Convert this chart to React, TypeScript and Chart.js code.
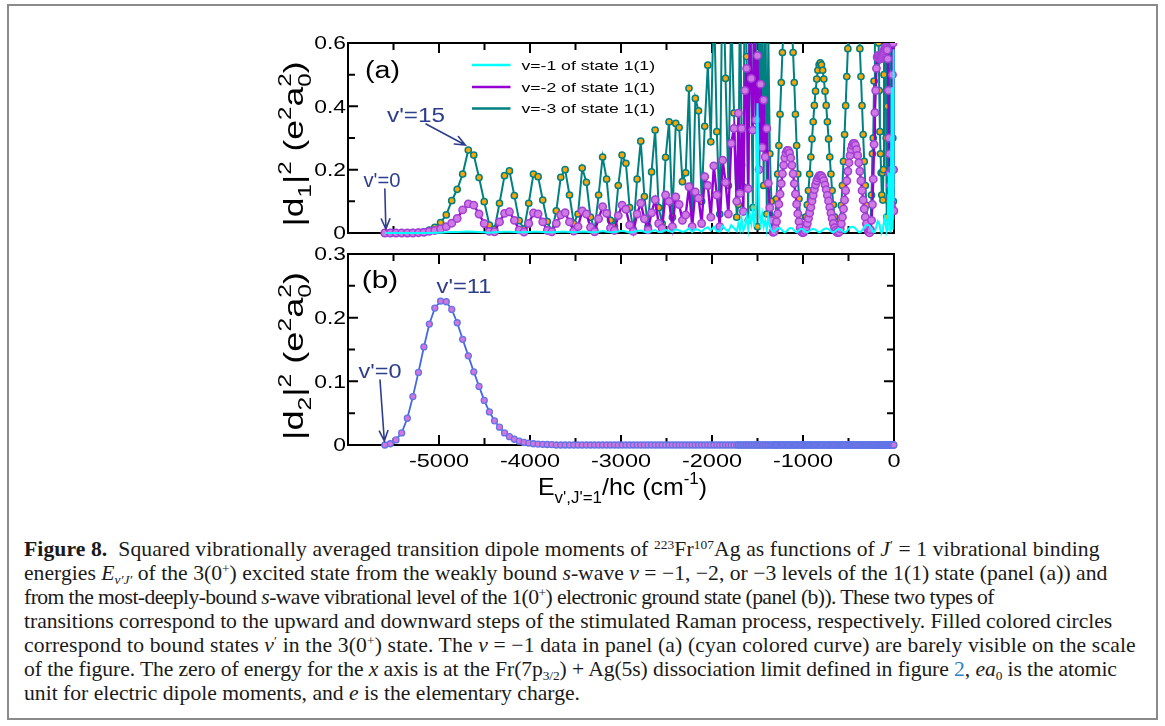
import React, { useEffect, useLayoutEffect, useRef } from 'react';
import { Chart, registerables } from 'chart.js';
Chart.register(...registerables);

// ---------------- data ----------------
// vibrational level energies E_{v',J'=1}/hc (cm^-1) of the 3(0+) state
const levelE = [
  -5595, -5535, -5473, -5410, -5348, -5287, -5226, -5166, -5106, -5046,
  -4983, -4920, -4860, -4800, -4740, -4678, -4618, -4560, -4503, -4446,
  -4390, -4335, -4280, -4226, -4172, -4119, -4066, -4014, -3962, -3911,
  -3860, -3810, -3760,
  -3711, -3662, -3614, -3566, -3519, -3472, -3426, -3380, -3335, -3290,
  -3246, -3202, -3158, -3115, -3072, -3030, -2988, -2946, -2905, -2864,
  -2823, -2783, -2743, -2703, -2664, -2625, -2586, -2548, -2510, -2472,
  -2435, -2398, -2361, -2325, -2289, -2253, -2218, -2183, -2148, -2114,
  -2080, -2046, -2013, -1980, -1947, -1915, -1883, -1851, -1820, -1789,
  -1758, -1728,
  -1710, -1692, -1674, -1656, -1638, -1620, -1602, -1585, -1568, -1551,
  -1534, -1517, -1500, -1483, -1466, -1449, -1432, -1415, -1398, -1381,
  -1364, -1347,
  -1330,
  -1317, -1304, -1291, -1278, -1265, -1252, -1239, -1226, -1213, -1200,
  -1187, -1174, -1161, -1148, -1135, -1122, -1109, -1096, -1083, -1070,
  -1057, -1044, -1031, -1018, -1005,
  -992, -979, -966, -953, -940, -927, -914, -901, -888, -875,
  -862, -849, -836, -823, -810, -797, -784, -771, -758, -745,
  -732, -719, -706, -693, -680, -667, -654, -641, -628, -615,
  -603, -591, -579, -567, -555, -543, -531, -519, -507, -495,
  -483, -471, -459, -447, -435, -423, -411, -399, -387, -375,
  -363, -351, -339, -327, -315, -303, -291, -279, -267,
  -257, -247, -237, -228, -219, -210, -201, -193, -185, -177,
  -169, -162, -155, -148, -141, -134, -128, -122, -116, -110,
  -104, -98, -92, -86, -80, -74, -68, -62, -56, -50,
  -45, -40, -35, -30, -25, -21, -17, -13, -10, -7,
  -4, -2,
];

// |d1|^2 from v=-1 of state 1(1) (cyan)
const d1sqV1 = [
  0, 0, 0, 0, 0, 0, 0, 0, 0, 0.001,
  0.001, 0.002, 0.003, 0.003, 0.004, 0.005, 0.004, 0.003, 0.002, 0.001,
  0.002, 0.003, 0.004, 0.004, 0.003, 0.002, 0.002, 0.003, 0.004, 0.004,
  0.003, 0.002, 0.002,
  0.003, 0.004, 0.004, 0.003, 0.002, 0.003, 0.005, 0.004, 0.002, 0.002,
  0.004, 0.006, 0.004, 0.002, 0.003, 0.005, 0.007, 0.005, 0.002, 0.003,
  0.006, 0.008, 0.004, 0.002, 0.006, 0.009, 0.003, 0.004, 0.01, 0.006,
  0.003, 0.012, 0.008, 0.004, 0.006, 0.015, 0.003, 0.012, 0.01, 0.004,
  0.014, 0.018,
  0.008, 0.02, 0.006, 0.004, 0.022, 0.012, 0.005, 0.025, 0.015, 0.006,
  0.03, 0.01, 0.045, 0.008, 0.02, 0.05, 0.012, 0.06, 0.03, 0.07,
  0.02, 0.1, 0.41, 0.08, 0.03, 0.06, 0.02, 0.04, 0.01, 0.05,
  0.02, 0.01,
  0.005,
  0.004, 0.008, 0.012, 0.015, 0.016, 0.015, 0.012, 0.008, 0.004, 0.002,
  0.004, 0.008, 0.012, 0.015, 0.016, 0.015, 0.012, 0.008, 0.004, 0.002,
  0.005, 0.009, 0.012, 0.013, 0.012,
  0.009, 0.006, 0.003, 0.002, 0.004, 0.007, 0.01, 0.012, 0.013, 0.012,
  0.01, 0.007, 0.004, 0.002, 0.003, 0.006, 0.009, 0.012, 0.014, 0.015,
  0.014, 0.012, 0.009, 0.006, 0.003, 0.002, 0.004, 0.007, 0.01, 0.012,
  0.013, 0.012, 0.01, 0.007, 0.004, 0.002, 0.003, 0.006, 0.01, 0.014,
  0.017, 0.019, 0.02, 0.019, 0.017, 0.014, 0.01, 0.006, 0.003, 0.002,
  0.004, 0.008, 0.013, 0.018, 0.022, 0.025, 0.026, 0.025, 0.022,
  0.018, 0.013, 0.008, 0.004, 0.002, 0.005, 0.012, 0.022, 0.032, 0.037,
  0.035, 0.028, 0.018, 0.009, 0.003, 0.002, 0.006, 0.015, 0.028, 0.04,
  0.05, 0.045, 0.03, 0.015, 0.005, 0.01, 0.05, 0.12, 0.19, 0.1,
  0.03, 0.005, 0.08, 0.3, 0.46, 0.25, 0.06, 0.01, 0.15, 0.58,
  0.4, 0.1,
];

// |d1|^2 from v=-2 of state 1(1) (purple)
const d1sqV2 = [
  0, 0, 0, 0, 0, 0, 0.001, 0.002, 0.005, 0.008,
  0.013, 0.02, 0.031, 0.046, 0.073, 0.092, 0.088, 0.06, 0.03, 0.005,
  0.004, 0.035, 0.062, 0.067, 0.04, 0.01, 0.003, 0.03, 0.063, 0.06,
  0.035, 0.008, 0.004,
  0.03, 0.057, 0.064, 0.035, 0.006, 0.02, 0.07, 0.06, 0.018, 0.004,
  0.045, 0.083, 0.062, 0.015, 0.008, 0.055, 0.088, 0.075, 0.025, 0.005,
  0.06, 0.094, 0.045, 0.01, 0.064, 0.105, 0.03, 0.015, 0.12, 0.1,
  0.02, 0.114, 0.09, 0.04, 0.057, 0.146, 0.02, 0.13, 0.11, 0.03,
  0.178, 0.15,
  0.05, 0.212, 0.12, 0.02, 0.23, 0.16, 0.06, 0.283, 0.33, 0.1,
  0.378, 0.125, 0.33, 0.068, 0.45, 0.52, 0.14, 0.62, 0.488, 0.325,
  0.75, 0.357, 0.56, 0.2, 0.47, 0.27, 0.42, 0.24, 0.33, 0.157,
  0.08, 0.04,
  0.002,
  0.004, 0.016, 0.036, 0.061, 0.091, 0.123, 0.156, 0.187, 0.214, 0.237,
  0.253, 0.261, 0.261, 0.253, 0.237, 0.214, 0.187, 0.156, 0.123, 0.091,
  0.061, 0.036, 0.016, 0.004, 0.001,
  0.002, 0.008, 0.017, 0.03, 0.046, 0.063, 0.081, 0.101, 0.119, 0.137,
  0.152, 0.165, 0.174, 0.18, 0.182, 0.18, 0.174, 0.165, 0.152, 0.137,
  0.119, 0.101, 0.081, 0.063, 0.046, 0.03, 0.017, 0.008, 0.002, 0.001,
  0.003, 0.013, 0.029, 0.05, 0.076, 0.104, 0.134, 0.165, 0.195, 0.222,
  0.245, 0.264, 0.277, 0.283, 0.283, 0.277, 0.264, 0.245, 0.222, 0.195,
  0.165, 0.134, 0.104, 0.076, 0.05, 0.029, 0.013, 0.003, 0.001,
  0.01, 0.04, 0.09, 0.17, 0.28, 0.38, 0.45, 0.52, 0.555, 0.56,
  0.56, 0.555, 0.55, 0.55, 0.552, 0.556, 0.56, 0.565, 0.57, 0.575,
  0.58, 0.585, 0.588, 0.585, 0.58, 0.578, 0.55, 0.45, 0.3, 0.25,
  0.188, 0.15, 0.11, 0.09, 0.07, 0.2, 0.5, 0.8, 0.6, 0.2,
  0.07, 0.07,
];

// |d1|^2 from v=-3 of state 1(1) (teal line, orange circles)
const d1sqV3 = [
  0, 0, 0, 0, 0, 0.001, 0.002, 0.004, 0.009, 0.018,
  0.033, 0.057, 0.102, 0.138, 0.186, 0.262, 0.246, 0.175, 0.099, 0.025,
  0.012, 0.094, 0.181, 0.196, 0.118, 0.039, 0.012, 0.094, 0.186, 0.178,
  0.104, 0.036, 0.005,
  0.07, 0.176, 0.2, 0.12, 0.03, 0.06, 0.205, 0.16, 0.05, 0.01,
  0.12, 0.24, 0.17, 0.04, 0.02, 0.15, 0.246, 0.22, 0.08, 0.01,
  0.17, 0.29, 0.115, 0.02, 0.193, 0.325, 0.08, 0.03, 0.239, 0.351,
  0.05, 0.346, 0.333, 0.162, 0.19, 0.457, 0.02, 0.425, 0.386, 0.1,
  0.337, 0.53,
  0.288, 0.75, 0.32, 0.06, 0.9, 0.488, 0.15, 0.7, 0.379, 0.05,
  0.09, 0.85, 0.215, 0.146, 0.95, 0.557, 0.04, 1.1, 0.45, 0.08,
  1.3, 0.483, 0.02, 1.0, 0.3, 0.7, 0.15, 0.9, 0.06, 0.62,
  0.25, 0.1,
  0.005,
  0.013, 0.049, 0.108, 0.186, 0.276, 0.375, 0.475, 0.57, 0.655, 0.724,
  0.772, 0.797, 0.797, 0.772, 0.724, 0.655, 0.57, 0.475, 0.375, 0.276,
  0.186, 0.108, 0.049, 0.013, 0.002,
  0.006, 0.023, 0.051, 0.089, 0.134, 0.186, 0.24, 0.297, 0.351, 0.403,
  0.448, 0.486, 0.514, 0.531, 0.537, 0.531, 0.514, 0.486, 0.448, 0.403,
  0.351, 0.297, 0.24, 0.186, 0.134, 0.089, 0.051, 0.023, 0.006, 0.001,
  0.01, 0.039, 0.087, 0.15, 0.226, 0.311, 0.402, 0.494, 0.582, 0.664,
  0.734, 0.789, 0.828, 0.848, 0.848, 0.828, 0.789, 0.734, 0.664, 0.582,
  0.494, 0.402, 0.311, 0.226, 0.15, 0.087, 0.039, 0.01, 0.001,
  0.04, 0.12, 0.25, 0.3, 0.48, 0.7, 0.95, 1.1, 1.0, 0.8,
  0.6, 0.45, 0.32, 0.25, 0.19, 0.12, 0.19, 0.104, 0.2, 0.5,
  0.9, 1.2, 0.8, 0.3, 0.05, 0.4, 0.9, 0.7, 0.1, 0.3,
  0.9, 0.5, 0.05, 0.8, 0.6, 0.08, 0.9, 0.3, 0.7, 0.1,
  0.8, 0.2,
];

// |d2|^2 from the most-deeply-bound level of 1(0+) (panel b)
const d2sq = [
  0, 0.002, 0.008, 0.019, 0.042, 0.076, 0.114, 0.154, 0.19, 0.215,
  0.226, 0.225, 0.213, 0.192, 0.166, 0.14, 0.115, 0.092, 0.07, 0.052,
  0.038, 0.028, 0.019, 0.013, 0.009, 0.006, 0.004, 0.003, 0.002, 0.0015,
  0.001, 0.0008, 0.0006,
  0, 0, 0, 0, 0, 0, 0, 0, 0, 0, 0, 0, 0, 0, 0, 0, 0, 0, 0, 0,
  0, 0, 0, 0, 0, 0, 0, 0, 0, 0, 0, 0, 0, 0, 0, 0, 0, 0, 0, 0,
  0, 0, 0, 0, 0, 0, 0, 0, 0, 0, 0, 0, 0, 0, 0, 0, 0, 0, 0, 0,
  0, 0, 0, 0, 0, 0, 0, 0, 0, 0, 0, 0, 0, 0, 0, 0, 0, 0, 0, 0,
  0, 0, 0, 0, 0, 0, 0, 0, 0, 0, 0, 0, 0, 0, 0, 0, 0, 0, 0, 0,
  0, 0, 0, 0, 0, 0, 0, 0, 0, 0, 0, 0, 0, 0, 0, 0, 0, 0, 0, 0,
  0, 0, 0, 0, 0, 0, 0, 0, 0, 0, 0, 0, 0, 0, 0, 0, 0, 0, 0, 0,
  0, 0, 0, 0, 0, 0, 0, 0, 0, 0, 0, 0, 0, 0, 0, 0, 0, 0, 0, 0,
  0, 0, 0, 0, 0, 0, 0, 0, 0, 0, 0, 0, 0, 0, 0, 0, 0, 0, 0, 0,
  0, 0, 0, 0, 0, 0, 0, 0, 0, 0, 0, 0, 0, 0, 0, 0, 0, 0, 0, 0,
  0,
];

const legendLabels = ['v=-1 of state 1(1)', 'v=-2 of state 1(1)', 'v=-3 of state 1(1)'];
const xTickValues = [-5000, -4000, -3000, -2000, -1000, 0];
const xTickLabels = ['-5000', '-4000', '-3000', '-2000', '-1000', '0'];
const yTickValuesA = [0, 0.2, 0.4, 0.6];
const yTickLabelsA = ['0', '0.2', '0.4', '0.6'];
const yTickValuesB = [0, 0.1, 0.2, 0.3];
const yTickLabelsB = ['0', '0.1', '0.2', '0.3'];

// ---------------- drawing helpers ----------------
const SANS = '"Liberation Sans", Arial, Helvetica, sans-serif';
const ANNOT = '#2c3e8c';
const SMALL = 0.68;

type Part = { t: string; k?: 'sub' | 'sup' | 'subsup'; t2?: string };

function partsWidth(ctx: CanvasRenderingContext2D, parts: Part[], size: number) {
  let w = 0;
  for (const p of parts) {
    if (!p.k) {
      ctx.font = `${size}px ${SANS}`;
      w += ctx.measureText(p.t).width;
    } else {
      ctx.font = `${size * SMALL}px ${SANS}`;
      const a = ctx.measureText(p.t).width;
      const b = p.t2 ? ctx.measureText(p.t2).width : 0;
      w += Math.max(a, b);
    }
  }
  return w;
}

function drawParts(ctx: CanvasRenderingContext2D, parts: Part[], size: number, subOff = 0.3, supOff = 0.42) {
  let x = 0;
  for (const p of parts) {
    if (!p.k) {
      ctx.font = `${size}px ${SANS}`;
      ctx.fillText(p.t, x, 0);
      x += ctx.measureText(p.t).width;
    } else {
      ctx.font = `${size * SMALL}px ${SANS}`;
      const a = ctx.measureText(p.t).width;
      const b = p.t2 ? ctx.measureText(p.t2).width : 0;
      if (p.k === 'sub') ctx.fillText(p.t, x, size * subOff);
      else if (p.k === 'sup') ctx.fillText(p.t, x, -size * supOff);
      else {
        ctx.fillText(p.t, x, size * subOff);
        ctx.fillText(p.t2 || '', x, -size * supOff);
      }
      x += Math.max(a, b);
    }
  }
}

type TOpts = {
  x: number; y: number; size: number; align?: 'left' | 'center' | 'right';
  sx?: number; w?: number; color?: string; rot?: boolean; sp?: number; subOff?: number; supOff?: number;
};

function textAt(ctx: CanvasRenderingContext2D, parts: Part[] | string, o: TOpts) {
  const P: Part[] = typeof parts === 'string' ? [{ t: parts }] : parts;
  const nat = partsWidth(ctx, P, o.size);
  const sx = o.w ? o.w / nat : o.sx ?? 1;
  const tw = nat * sx;
  ctx.save();
  ctx.fillStyle = o.color ?? '#000';
  ctx.textAlign = 'left';
  ctx.textBaseline = 'alphabetic';
  if (o.rot) {
    ctx.translate(o.x, o.y);
    ctx.rotate(-Math.PI / 2);
    ctx.scale(sx, o.sp ?? 1);
    ctx.translate(-nat / 2, 0);
  } else {
    let left = o.x;
    if (o.align === 'center') left -= tw / 2;
    else if (o.align === 'right') left -= tw;
    ctx.translate(left, o.y);
    ctx.scale(sx, o.sp ?? 1);
  }
  drawParts(ctx, P, o.size, o.subOff, o.supOff);
  ctx.restore();
}

function arrow(ctx: CanvasRenderingContext2D, x0: number, y0: number, x1: number, y1: number, color: string) {
  ctx.save();
  ctx.strokeStyle = color;
  ctx.lineWidth = 1.6;
  ctx.lineCap = 'round';
  ctx.beginPath();
  ctx.moveTo(x0, y0);
  ctx.lineTo(x1, y1);
  const a = Math.atan2(y1 - y0, x1 - x0);
  const L = 11, s = 0.4;
  ctx.moveTo(x1 - L * Math.cos(a - s), y1 - L * Math.sin(a - s));
  ctx.lineTo(x1, y1);
  ctx.lineTo(x1 - L * Math.cos(a + s), y1 - L * Math.sin(a + s));
  ctx.stroke();
  ctx.restore();
}

function makeFrame(yStep: number, yCount: number) {
  return {
    id: 'frame',
    beforeDatasetsDraw(chart: any) {
      const { ctx, chartArea: a, scales } = chart;
      ctx.save();
      ctx.strokeStyle = '#000';
      ctx.lineWidth = 2;
      ctx.strokeRect(a.left, a.top, a.right - a.left, a.bottom - a.top);
      ctx.beginPath();
      for (let i = 0; i <= 12; i++) {
        const v = -6000 + i * 500;
        const px = scales.x.getPixelForValue(v);
        const L = i % 2 === 0 ? 10 : 7;
        ctx.moveTo(px, a.bottom); ctx.lineTo(px, a.bottom - L);
        ctx.moveTo(px, a.top); ctx.lineTo(px, a.top + L);
      }
      for (let i = 0; i <= yCount; i++) {
        const py = scales.y.getPixelForValue(i * yStep);
        const L = i % 2 === 0 ? 10 : 7;
        ctx.moveTo(a.left, py); ctx.lineTo(a.left + L, py);
        ctx.moveTo(a.right, py); ctx.lineTo(a.right - L, py);
      }
      ctx.stroke();
      ctx.restore();
    },
  };
}

const titleA: Part[] = [
  { t: '|d' }, { t: '1', k: 'sub' }, { t: '|' }, { t: '2', k: 'sup' }, { t: ' (e' }, { t: '2', k: 'sup' },
  { t: 'a' }, { t: '0', k: 'subsup', t2: '2' }, { t: ')' },
];
const titleB: Part[] = [
  { t: '|d' }, { t: '2', k: 'sub' }, { t: '|' }, { t: '2', k: 'sup' }, { t: ' (e' }, { t: '2', k: 'sup' },
  { t: 'a' }, { t: '0', k: 'subsup', t2: '2' }, { t: ')' },
];
const titleX: Part[] = [
  { t: 'E' }, { t: "v',J'=1", k: 'sub' }, { t: '/hc (cm' }, { t: '-1', k: 'sup' }, { t: ')' },
];

const textA = {
  id: 'textA',
  afterDraw(chart: any) {
    const { ctx, scales } = chart;
    yTickValuesA.forEach((v, i) =>
      textAt(ctx, yTickLabelsA[i], { x: 346, y: scales.y.getPixelForValue(v) + 6.4, size: 18, align: 'right', sx: 1.27 })
    );
    textAt(ctx, titleA, { x: 303, y: 144, size: 24, rot: true, w: 165, sp: 1.15 });
    const cols = ['#00ffff', '#9400d3', '#008080'];
    const rows = [65, 87, 108.5];
    legendLabels.forEach((lab, i) => {
      ctx.save();
      ctx.strokeStyle = cols[i];
      ctx.lineWidth = 2.5;
      ctx.beginPath();
      ctx.moveTo(472, rows[i]);
      ctx.lineTo(510.5, rows[i]);
      ctx.stroke();
      ctx.restore();
      textAt(ctx, lab, { x: 521.5, y: rows[i] + 4.8, size: 13.5, w: 133.5 });
    });
    textAt(ctx, '(a)', { x: 382.5, y: 78.4, size: 23, align: 'center', w: 35 });
    const tx = scales.x.getPixelForValue(levelE[15]);
    const ty = scales.y.getPixelForValue(d1sqV3[15]);
    textAt(ctx, "v'=15", { x: 416, y: 121.5, size: 20, align: 'center', w: 58, color: ANNOT });
    arrow(ctx, 426, 124, tx - 3, ty - 5, ANNOT);
    const zx = scales.x.getPixelForValue(levelE[0]);
    textAt(ctx, "v'=0", { x: 382, y: 186.5, size: 20, align: 'center', w: 37, color: ANNOT });
    arrow(ctx, zx, 189, zx + 1, scales.y.getPixelForValue(0) - 4, ANNOT);
  },
};

const OFFB = 240;
const textB = {
  id: 'textB',
  afterDraw(chart: any) {
    const { ctx, scales } = chart;
    yTickValuesB.forEach((v, i) =>
      textAt(ctx, yTickLabelsB[i], { x: 346, y: scales.y.getPixelForValue(v) + 6.4, size: 18, align: 'right', sx: 1.27 })
    );
    xTickValues.forEach((v, i) =>
      textAt(ctx, xTickLabels[i], { x: scales.x.getPixelForValue(v), y: 466.5 - OFFB, size: 18.5, align: 'center', sx: 1.27 })
    );
    textAt(ctx, titleB, { x: 303, y: 356 - OFFB, size: 24, rot: true, w: 168, sp: 1.15 });
    textAt(ctx, titleX, { x: 538, y: 495 - OFFB, size: 24, w: 169, subOff: 0.33, supOff: 0.45 });
    textAt(ctx, '(b)', { x: 380, y: 288.4 - OFFB, size: 23, align: 'center', w: 36.5 });
    textAt(ctx, "v'=11", { x: 464, y: 293.3 - OFFB, size: 20, align: 'center', w: 55, color: ANNOT });
    const zx = scales.x.getPixelForValue(levelE[0]);
    textAt(ctx, "v'=0", { x: 380, y: 378 - OFFB, size: 20, align: 'center', w: 43, color: ANNOT });
    arrow(ctx, 380, 380 - OFFB, zx - 0.5, scales.y.getPixelForValue(0) - 4, ANNOT);
  },
};

function pts(vals: number[]) {
  return levelE.map((e, i) => ({ x: e, y: vals[i] }));
}

const CLIP = { left: 8, top: 0, right: 8, bottom: 8 };

// ---------------- caption ----------------
const supS: React.CSSProperties = { fontSize: '0.62em', verticalAlign: '0.55em', lineHeight: 0 };
const subS: React.CSSProperties = { fontSize: '0.62em', verticalAlign: '-0.3em', lineHeight: 0 };
const Sup = ({ c }: { c: React.ReactNode }) => <span style={supS}>{c}</span>;
const Sub = ({ c }: { c: React.ReactNode }) => <span style={subS}>{c}</span>;

const captionTargets = [1084, 1085, 913, 1084, 1126, 1082, 556];
const captionLines: React.ReactNode[] = [
  <>
    <b>Figure 8.</b>{'\u00a0\u00a0'}Squared vibrationally averaged transition dipole moments of <Sup c="223" />Fr<Sup c="107" />Ag as functions
    of <i>J</i><Sup c="′" /> = 1 vibrational binding
  </>,
  <>
    energies <i>E</i><Sub c={<i>v′J′</i>} /> of the 3(0<Sup c="+" />) excited state from the weakly bound <i>s</i>-wave <i>v</i> = −1, −2, or
    −3 levels of the 1(1) state (panel (a)) and
  </>,
  <>
    from the most-deeply-bound <i>s</i>-wave vibrational level of the 1(0<Sup c="+" />) electronic ground state (panel (b)). These two types
    of
  </>,
  <>
    transitions correspond to the upward and downward steps of the stimulated Raman process, respectively. Filled colored circles
  </>,
  <>
    correspond to bound states <i>v</i><Sup c="′" /> in the 3(0<Sup c="+" />) state. The <i>v</i> = −1 data in panel (a) (cyan colored curve)
    are barely visible on the scale
  </>,
  <>
    of the figure. The zero of energy for the <i>x</i> axis is at the Fr(7p<Sub c="3/2" />) + Ag(5s) dissociation limit defined in
    figure <span style={{ color: '#2f7fc1' }}>2</span>, <i>ea</i><Sub c="0" /> is the atomic
  </>,
  <>
    unit for electric dipole moments, and <i>e</i> is the elementary charge.
  </>,
];

function Caption() {
  const refs = useRef<(HTMLSpanElement | null)[]>([]);
  useLayoutEffect(() => {
    const fit = () => {
      const els = refs.current.filter(Boolean) as HTMLSpanElement[];
      if (els.length !== captionTargets.length) return;
      const nat = els.map((el) => {
        el.style.transform = 'none';
        el.style.letterSpacing = '0px';
        return el.getBoundingClientRect().width;
      });
      const ratios = nat.map((w, i) => captionTargets[i] / w).sort((a, b) => a - b);
      const m = ratios[Math.floor(ratios.length / 2)];
      els.forEach((el, i) => {
        const n = Math.max(1, (el.textContent || '').length);
        const ls = (0.55 * (captionTargets[i] / m - nat[i])) / n;
        el.style.letterSpacing = `${ls}px`;
        el.style.transform = `scaleX(${m})`;
      });
    };
    fit();
    if ((document as any).fonts && (document as any).fonts.ready) (document as any).fonts.ready.then(fit);
  }, []);
  return (
    <div
      style={{
        position: 'absolute', left: 24, top: 537, fontFamily: '"Liberation Serif", "Times New Roman", serif',
        fontSize: 21, color: '#1a1a1a',
      }}
    >
      {captionLines.map((ln, i) => (
        <div key={i} style={{ height: 24, lineHeight: '24px', whiteSpace: 'nowrap' }}>
          <span
            ref={(el) => { refs.current[i] = el; }}
            style={{ display: 'inline-block', transformOrigin: 'left center', whiteSpace: 'nowrap' }}
          >
            {ln}
          </span>
        </div>
      ))}
    </div>
  );
}

export default function App() {
  const refA = useRef<HTMLCanvasElement>(null);
  const refB = useRef<HTMLCanvasElement>(null);

  useEffect(() => {
    const chartA = new Chart(refA.current as HTMLCanvasElement, {
      type: 'line',
      data: {
        datasets: [
          {
            label: legendLabels[0], data: pts(d1sqV1), borderColor: '#00ffff', borderWidth: 2,
            pointRadius: 0, clip: CLIP as any,
          },
          {
            label: legendLabels[1], data: pts(d1sqV2), borderColor: '#9400d3', borderWidth: 2.4,
            pointRadius: 3.7, pointBackgroundColor: '#cf7ae3', pointBorderColor: '#a43fd6', pointBorderWidth: 1.5,
            clip: CLIP as any,
          },
          {
            label: legendLabels[2], data: pts(d1sqV3), borderColor: '#008080', borderWidth: 2,
            pointRadius: 3.1, pointBackgroundColor: '#ffa500', pointBorderColor: '#008080', pointBorderWidth: 1.5,
            clip: CLIP as any,
          },
        ],
      },
      options: {
        animation: false,
        responsive: false,
        devicePixelRatio: 1,
        events: [],
        layout: { padding: { left: 348, right: 271, top: 43, bottom: 7 } },
        elements: { line: { tension: 0 } },
        scales: {
          x: { type: 'linear', min: -6000, max: 0, display: false },
          y: { type: 'linear', min: 0, max: 0.6, display: false },
        },
        plugins: { legend: { display: false }, tooltip: { enabled: false } },
      },
      plugins: [makeFrame(0.1, 6), textA],
    });

    const chartB = new Chart(refB.current as HTMLCanvasElement, {
      type: 'line',
      data: {
        datasets: [
          {
            label: '|d2|^2', data: pts(d2sq), borderColor: '#4169e1', borderWidth: 1.8,
            pointRadius: 3, pointBackgroundColor: '#d574dd', pointBorderColor: '#6275e6', pointBorderWidth: 1.3,
            clip: CLIP as any,
          },
        ],
      },
      options: {
        animation: false,
        responsive: false,
        devicePixelRatio: 1,
        events: [],
        layout: { padding: { left: 348, right: 271, top: 14, bottom: 85 } },
        elements: { line: { tension: 0 } },
        scales: {
          x: { type: 'linear', min: -6000, max: 0, display: false },
          y: { type: 'linear', min: 0, max: 0.3, display: false },
        },
        plugins: { legend: { display: false }, tooltip: { enabled: false } },
      },
      plugins: [makeFrame(0.05, 6), textB],
    });

    return () => {
      chartA.destroy();
      chartB.destroy();
    };
  }, []);

  return (
    <div style={{ position: 'absolute', left: 0, top: 0, width: 1165, height: 726, background: '#fff', overflow: 'hidden' }}>
      <div
        style={{
          position: 'absolute', left: 7, top: 4, width: 1151, height: 716, border: '2px solid #8a8a8a', boxSizing: 'border-box',
        }}
      />
      <canvas ref={refA} width={1165} height={240} style={{ position: 'absolute', left: 0, top: 0, width: 1165, height: 240 }} />
      <canvas ref={refB} width={1165} height={290} style={{ position: 'absolute', left: 0, top: OFFB, width: 1165, height: 290 }} />
      <Caption />
    </div>
  );
}
